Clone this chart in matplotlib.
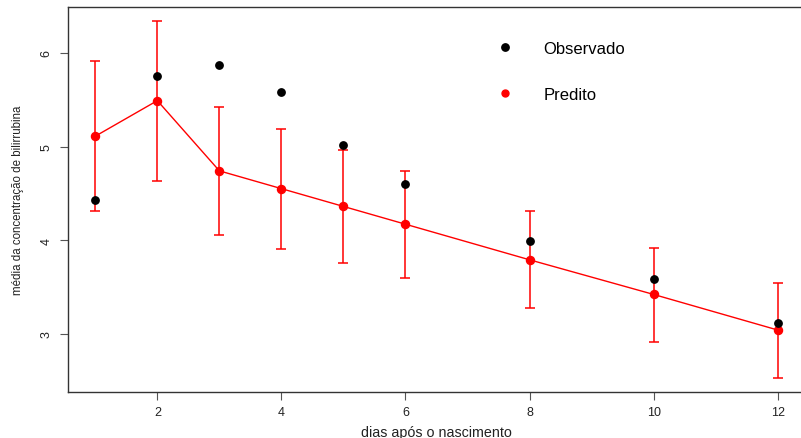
import matplotlib
matplotlib.use("Agg")
import matplotlib.pyplot as plt
from matplotlib.lines import Line2D

plt.rcParams['font.family'] = ['Liberation Sans', 'DejaVu Sans']

dias = [1, 2, 3, 4, 5, 6, 8, 10, 12]
observado = [4.43, 5.75, 5.87, 5.58, 5.02, 4.60, 3.99, 3.59, 3.12]
predito = [5.11, 5.49, 4.74, 4.55, 4.36, 4.17, 3.79, 3.42, 3.04]
ic_sup = [5.91, 6.34, 5.42, 5.19, 4.96, 4.74, 4.31, 3.92, 3.54]
ic_inf = [4.31, 4.63, 4.06, 3.91, 3.76, 3.60, 3.27, 2.91, 2.53]
xticks = [2, 4, 6, 8, 10, 12]
yticks = [3, 4, 5, 6]

W, H = 801, 439
fig = plt.figure(figsize=(W / 100, H / 100), dpi=100)
ax = fig.add_axes([68 / W, (H - 393) / H, (805 - 68) / W, (393 - 8) / H])

err_lo = [p - l for p, l in zip(predito, ic_inf)]
err_hi = [u - p for p, u in zip(predito, ic_sup)]
ax.errorbar(dias, predito, yerr=[err_lo, err_hi], fmt='none', ecolor='red',
            elinewidth=1.1, capsize=3.3, capthick=1.1, zorder=2)
ax.plot(dias, predito, color='red', lw=1.0, zorder=3)
ax.plot(dias, predito, 'o', color='red', ms=5.8, zorder=4, label='Predito')
ax.plot(dias, observado, 'o', color='black', ms=5.3, zorder=5, label='Observado')

ax.set_xlim(0.56, 12.44)
ax.set_ylim(2.378, 6.49)
ax.set_xticks(xticks)
ax.set_yticks(yticks)
ax.tick_params(axis='both', direction='out', length=6, width=0.8, color='#555555',
               labelsize=9, labelcolor='#222222')
ax.tick_params(axis='x', pad=4)
ax.tick_params(axis='y', pad=5)
for lab in ax.get_yticklabels():
    lab.set_rotation(90)
    lab.set_va('center')
for s in ax.spines.values():
    s.set_color('#333333')
    s.set_linewidth(1.0)

ax.set_xlabel('dias após o nascimento', fontsize=10.3, color='#222222', va='center')
ax.xaxis.set_label_coords(0.5, (393 - 433) / 385)
ax.set_ylabel('média da concentração de bilirrubina', fontsize=8.3, color='#222222', labelpad=12)

handles = [Line2D([], [], ls='none', marker='o', color='black', ms=5.3),
           Line2D([], [], ls='none', marker='o', color='red', ms=5.0)]
ax.legend(handles, ['Observado', 'Predito'], loc='upper left',
          bbox_to_anchor=(497 / W, (H - 42) / H), bbox_transform=fig.transFigure,
          frameon=False, fontsize=12, handlelength=1.0, handletextpad=1.8,
          labelspacing=1.85, borderpad=0, borderaxespad=0)

fig.savefig('out.png', dpi=100)
